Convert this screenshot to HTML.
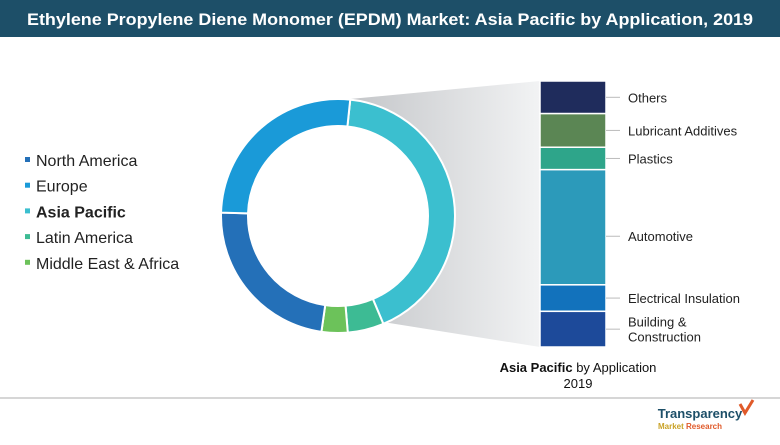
<!DOCTYPE html>
<html><head><meta charset="utf-8"><style>
body{margin:0;width:780px;height:440px;overflow:hidden;background:#fff;font-family:"Liberation Sans",sans-serif}
</style></head><body>
<svg width="780" height="440" viewBox="0 0 780 440">
<defs>
<linearGradient id="wedge" x1="0" x2="1" y1="0" y2="0">
<stop offset="0" stop-color="#c4c6c9"/><stop offset="1" stop-color="#f2f3f4"/>
</linearGradient>
</defs>
<rect x="0" y="0" width="780" height="37" fill="#1d4f68"/>
<text x="27" y="25" fill="#fff" font-size="17" font-weight="bold" textLength="726" lengthAdjust="spacingAndGlyphs">Ethylene Propylene Diene Monomer (EPDM) Market: Asia Pacific by Application, 2019</text>
<polygon points="350,99 540,81 540,347 383,322" fill="url(#wedge)"/>
<circle cx="338" cy="216" r="95" fill="#fff"/>
<g id="donut"></g>
<g id="legend"></g>
<g id="stack"></g>
<text x="578" y="372" text-anchor="middle" font-size="13" fill="#111"><tspan font-weight="bold">Asia Pacific</tspan> by Application</text>
<text x="578" y="388" text-anchor="middle" font-size="13" fill="#111">2019</text>
<line x1="0" y1="398" x2="780" y2="398" stroke="#c8c8c8" stroke-width="1.5"/>
<text x="700" y="418" text-anchor="middle" font-size="13" font-weight="bold" fill="#1d4f68">Transparency</text>
<text x="690" y="429" text-anchor="middle" font-size="8" font-weight="bold" fill="#e05a2a"><tspan fill="#c9a227">Market</tspan> Research</text>
<path d="M740 404 l5 9 l8 -13" fill="none" stroke="#e05a2a" stroke-width="3"/>
</svg>
<script>
const regions=["Asia Pacific","Latin America","Middle East & Africa","North America","Europe"];
const regionShares=[42,5,3.6,23.2,26.2];
const regionColors=["#3bbfcf","#3dbb94","#6cc25a","#2470b8","#1a9ad8"];
const legendOrder=["North America","Europe","Asia Pacific","Latin America","Middle East & Africa"];
const apps=["Others","Lubricant Additives","Plastics","Automotive","Electrical Insulation","Building & Construction"];
const appShares=[32,33,22,113,26,35];
const appColors=["#1f2c5c","#5b8654","#2ea58a","#2c9aba","#1272bc","#1d4a9a"];
const NS="http://www.w3.org/2000/svg";
const cx=338,cy=216,R=117,r=90,startAngle=6;
function pt(a,rad){const t=(a-90)*Math.PI/180;return [cx+rad*Math.cos(t),cy+rad*Math.sin(t)];}
const donut=document.getElementById('donut');
const tot=regionShares.reduce((a,b)=>a+b,0);
let a0=startAngle;
regionShares.forEach((v,i)=>{
 const a1=a0+v/tot*360;const large=(a1-a0)>180?1:0;
 const p1=pt(a0,R),p2=pt(a1,R),p3=pt(a1,r),p4=pt(a0,r);
 const p=document.createElementNS(NS,'path');
 p.setAttribute('d',`M${p1} A${R} ${R} 0 ${large} 1 ${p2} L${p3} A${r} ${r} 0 ${large} 0 ${p4}Z`);
 p.setAttribute('fill',regionColors[i]);p.setAttribute('stroke','#fff');p.setAttribute('stroke-width','2');
 
 
 donut.appendChild(p);a0=a1;
});
const legendG=document.getElementById('legend');
legendOrder.forEach((n,i)=>{
 const y=160+i*25.7;const c=regionColors[regions.indexOf(n)];
 const m=document.createElementNS(NS,'rect');
 m.setAttribute('x',25);m.setAttribute('y',y-3);m.setAttribute('width',5);m.setAttribute('height',5);m.setAttribute('fill',c);
 
 
 legendG.appendChild(m);
 const t=document.createElementNS(NS,'text');
 t.setAttribute('x',36);t.setAttribute('y',y+6);t.setAttribute('font-size','16');t.setAttribute('fill','#222');
 if(n==="Asia Pacific")t.setAttribute('font-weight','bold');
 t.textContent=n;
 
 
 legendG.appendChild(t);
});
const stackG=document.getElementById('stack');
const bx=540,bw=66,barTop=81,bh=266;
const at=appShares.reduce((a,b)=>a+b,0);
let yy=barTop;
appShares.forEach((v,i)=>{
 const h=v/at*bh;
 const rc=document.createElementNS(NS,'rect');
 rc.setAttribute('x',bx);rc.setAttribute('y',yy);rc.setAttribute('width',bw);rc.setAttribute('height',h);
 rc.setAttribute('fill',appColors[i]);rc.setAttribute('stroke','#fff');rc.setAttribute('stroke-width','1.5');
 
 
 stackG.appendChild(rc);
 const my=yy+h/2+(apps[i]==="Automotive"?9:0);
 const ln=document.createElementNS(NS,'line');
 ln.setAttribute('x1',bx+bw);ln.setAttribute('x2',bx+bw+14);ln.setAttribute('y1',my);ln.setAttribute('y2',my);
 ln.setAttribute('stroke','#bbb');
 
 
 stackG.appendChild(ln);
 const parts=apps[i]==="Building & Construction"?["Building &","Construction"]:[apps[i]];
 parts.forEach((s,k)=>{
  const t=document.createElementNS(NS,'text');
  t.setAttribute('x',628);t.setAttribute('y',my+5+(parts.length>1?(k-0.5)*15:0));
  t.setAttribute('font-size','13');t.setAttribute('fill','#222');t.textContent=s;
  
  
  stackG.appendChild(t);
 });
 yy+=h;
});
</script>
</body></html>
